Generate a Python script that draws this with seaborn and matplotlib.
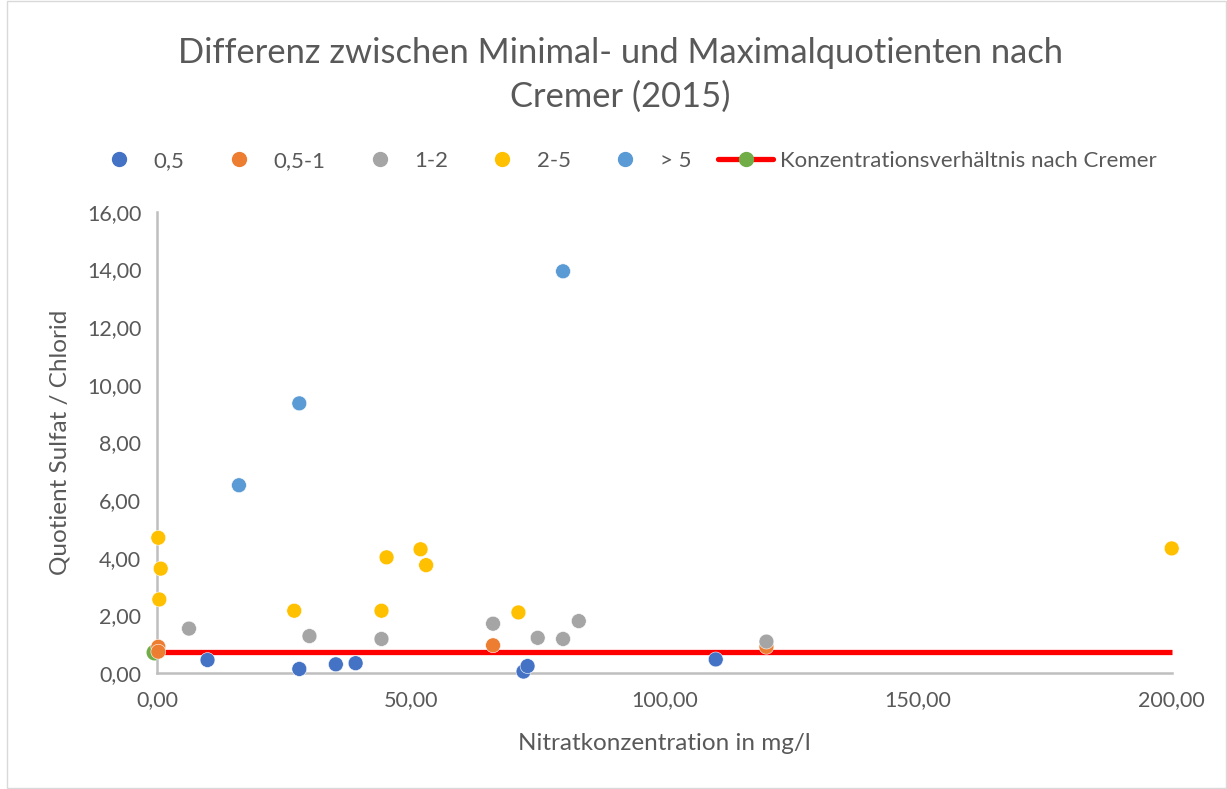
import matplotlib
matplotlib.use("Agg")
import matplotlib.pyplot as plt
import seaborn as sns
import pandas as pd
from matplotlib.lines import Line2D
from matplotlib.patches import Rectangle
from matplotlib.ticker import MultipleLocator, FuncFormatter

# ---- data ----
cat_labels = ["0,5", "0,5-1", "1-2", "2-5", "> 5"]
x_05 = [9.9, 28.0, 35.2, 39.1, 72.2, 73.0, 110.1]
y_05 = [0.45, 0.14, 0.30, 0.34, 0.05, 0.24, 0.47]
x_05_1 = [0.2, 0.2, 66.2, 120.1]
y_05_1 = [0.91, 0.74, 0.96, 0.91]
x_1_2 = [6.25, 30.0, 44.2, 66.2, 75.0, 80.0, 83.1, 120.1]
y_1_2 = [1.54, 1.28, 1.18, 1.71, 1.22, 1.18, 1.80, 1.09]
x_2_5 = [0.2, 0.67, 0.4, 27.0, 45.2, 44.2, 51.9, 53.0, 71.2, 200.0]
y_2_5 = [4.69, 3.62, 2.55, 2.16, 4.01, 2.16, 4.29, 3.74, 2.10, 4.32]
x_gt5 = [16.1, 28.0, 80.0]
y_gt5 = [6.51, 9.35, 13.93]
cremer_x = [0.0, 200.0]
cremer_y = [0.74, 0.74]
cremer_label = "Konzentrationsverhältnis nach Cremer"

palette = ["#4472C4", "#ED7D31", "#A5A5A5", "#FFC000", "#5B9BD5"]

xs = [x_05, x_05_1, x_1_2, x_2_5, x_gt5]
ys = [y_05, y_05_1, y_1_2, y_2_5, y_gt5]
rows = []
for lab, xv, yv in zip(cat_labels, xs, ys):
    for a, b in zip(xv, yv):
        rows.append({"x": a, "y": b, "cat": lab})
df = pd.DataFrame(rows)

sns.set_theme(style="white")
plt.rcParams["font.family"] = ["Lato", "DejaVu Sans"]
txt = "#595959"
axc = "#BFBFBF"

W, H = 1227, 789
fig = plt.figure(figsize=(W / 100, H / 100), dpi=100)
ax = fig.add_axes([157.3 / W, 1 - 673 / H, (1171.7 - 157.3) / W, (673 - 211.6) / H])

# Cremer line
ax.plot(cremer_x, cremer_y, color="#FF0000", lw=3.8, zorder=2, solid_capstyle="butt", clip_on=False)
ax.plot([cremer_x[0] - 0.6], [cremer_y[0]], "o", color="#70AD47", ms=10.5, zorder=2.5, clip_on=False)

sns.scatterplot(data=df, x="x", y="y", hue="cat", hue_order=cat_labels, palette=palette,
                s=115, edgecolor="white", linewidth=0.4, legend=False, ax=ax, zorder=3, clip_on=False)

ax.set_xlim(0, 200)
ax.set_ylim(0, 16)
ax.xaxis.set_major_locator(MultipleLocator(50))
ax.xaxis.set_minor_locator(MultipleLocator(10))
ax.yaxis.set_major_locator(MultipleLocator(2))
fmt = FuncFormatter(lambda v, p: f"{v:.2f}".replace(".", ","))
ax.xaxis.set_major_formatter(fmt)
ax.yaxis.set_major_formatter(fmt)

for s in ["top", "right"]:
    ax.spines[s].set_visible(False)
for s in ["left", "bottom"]:
    ax.spines[s].set_color(axc)
    ax.spines[s].set_linewidth(1.8)
ax.tick_params(axis="both", which="major", direction="inout", length=11, width=1.8, color=axc,
               labelsize=15.5, labelcolor=txt)
ax.tick_params(axis="x", which="minor", direction="inout", length=7.5, width=1.8, color=axc)
ax.tick_params(axis="x", which="major", pad=7)
ax.tick_params(axis="y", which="major", pad=6)
ax.grid(False)

ax.set_xlabel("Nitratkonzentration in mg/l", fontsize=17.5, color=txt, labelpad=16)
ax.set_ylabel("Quotient Sulfat / Chlorid", fontsize=17.5, color=txt, labelpad=12)

fig.text(620 / W, 1 - 75 / H, "Differenz zwischen Minimal- und Maximalquotienten nach\nCremer (2015)",
         ha="center", va="center", fontsize=24.8, color=txt, linespacing=1.45)

handles = [Line2D([], [], ls="none", marker="o", ms=10, color=c) for c in palette]
handles.append(Line2D([], [], color="#FF0000", lw=3.8, marker="o", ms=10,
                      markerfacecolor="#70AD47", markeredgecolor="#70AD47"))
leg = fig.legend(handles, cat_labels + [cremer_label], loc="center",
                 bbox_to_anchor=(624 / W, 1 - 161 / H), ncol=6, frameon=False,
                 fontsize=16, handlelength=2.5, handletextpad=0.3, columnspacing=1.2,
                 labelcolor=txt)

fig.patches.append(Rectangle((7 / W, 1 / H), 1 - 8 / W, 1 - 2 / H, transform=fig.transFigure,
                             fill=False, edgecolor="#D9D9D9", lw=1))

fig.savefig("out.png", dpi=100)
